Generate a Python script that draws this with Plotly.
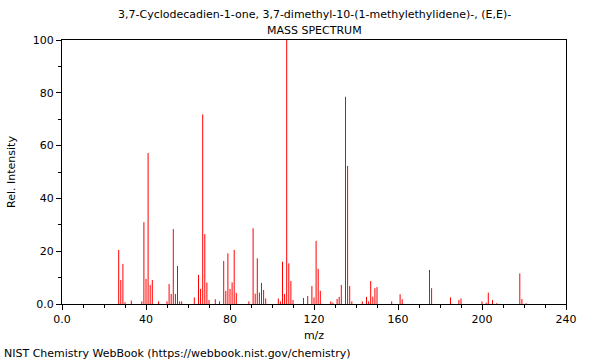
import plotly.graph_objects as go

mz = [27, 28, 29, 30, 33, 38, 39, 40, 41, 42, 43, 46, 50, 51, 52, 53, 54, 55, 56, 57,
      63, 65, 66, 67, 68, 69, 70, 73, 75, 77, 78, 79, 80, 81, 82, 83,
      89, 91, 92, 93, 94, 95, 96, 97,
      103, 104, 105, 106, 107, 108, 109, 110,
      115, 117, 119, 120, 121, 122, 123,
      128, 129, 131, 132, 133, 135, 136, 137, 138,
      143, 145, 146, 147, 148, 149, 150,
      157, 161, 162, 175, 176,
      185, 189, 190, 200, 202, 203, 205, 207,
      218, 219, 221]
intensity = [20.5, 9.1, 15.2, 0.7, 1.3, 1.0, 31.0, 9.5, 57.2, 7.2, 9.1, 1.0, 1.0, 7.6, 3.8, 28.4, 3.8, 14.4, 1.0, 1.0,
             2.5, 11.0, 5.7, 71.8, 26.5, 8.1, 1.5, 1.8, 1.0, 16.3, 5.0, 19.2, 5.7, 8.2, 20.5, 4.2,
             1.0, 28.7, 3.9, 17.3, 4.3, 8.0, 5.3, 2.1,
             2.1, 1.0, 16.0, 3.8, 100.0, 15.4, 8.7, 1.5,
             2.3, 3.0, 6.8, 2.5, 23.9, 13.3, 5.0,
             1.0, 0.5, 1.9, 2.7, 7.2, 78.5, 52.3, 6.8, 1.0,
             1.0, 2.7, 1.0, 8.7, 2.8, 6.0, 6.4,
             1.0, 3.7, 1.8, 12.9, 6.0,
             2.5, 1.5, 2.1, 1.0, 0.5, 4.3, 1.5, 0.3,
             11.6, 1.9, 0.3]

x_tickvals = [0, 40, 80, 120, 160, 200, 240]
x_ticktext = ["0.0", "40", "80", "120", "160", "200", "240"]
y_tickvals = [0, 20, 40, 60, 80, 100]
y_ticktext = ["0.0", "20", "40", "60", "80", "100"]

title_line1 = "3,7-Cyclodecadien-1-one, 3,7-dimethyl-10-(1-methylethylidene)-, (E,E)-"
title_line2 = "MASS SPECTRUM"
footer = "NIST Chemistry WebBook (https://webbook.nist.gov/chemistry)"

font = "DejaVu Sans"

# stick spectrum: one vertical segment per peak, built from the data arrays
seg_x, seg_y = [], []
for m, v in zip(mz, intensity):
    seg_x += [m, m, None]
    seg_y += [0, v, None]

fig = go.Figure()
fig.add_trace(go.Scatter(x=seg_x, y=seg_y, mode="lines",
                         line=dict(color="#ff0000", width=1), hoverinfo="skip"))

fig.update_layout(
    width=600, height=360,
    margin=dict(l=62, r=34, t=40, b=56, autoexpand=False),
    paper_bgcolor="white", plot_bgcolor="white",
    showlegend=False,
    font=dict(family=font, size=11, color="black"),
)
fig.update_xaxes(
    range=[0, 240], tickvals=x_tickvals, ticktext=x_ticktext,
    ticks="outside", ticklen=5, tickcolor="black", tickwidth=1,
    minor=dict(dtick=10, tick0=0, ticks="outside", ticklen=3, tickcolor="black", showgrid=False),
    showline=True, linecolor="black", linewidth=1, mirror=True,
    showgrid=False, zeroline=False,
    title=dict(text="m/z", font=dict(size=11), standoff=6),
    tickfont=dict(size=11),
)
fig.update_yaxes(
    range=[0, 100], tickvals=y_tickvals, ticktext=y_ticktext,
    ticks="outside", ticklen=5, tickcolor="black", tickwidth=1,
    minor=dict(dtick=10, tick0=0, ticks="outside", ticklen=3, tickcolor="black", showgrid=False),
    showline=True, linecolor="black", linewidth=1, mirror=True,
    showgrid=False, zeroline=False,
    title=dict(text="Rel. Intensity", font=dict(size=11), standoff=14),
    tickfont=dict(size=11),
)
fig.add_annotation(text=title_line1, xref="paper", yref="paper", x=0.5, y=1,
                   yshift=26, showarrow=False, font=dict(size=11), xanchor="center", yanchor="middle")
fig.add_annotation(text=title_line2, xref="paper", yref="paper", x=0.5, y=1,
                   yshift=10, showarrow=False, font=dict(size=11), xanchor="center", yanchor="middle")
fig.add_annotation(text=footer, xref="paper", yref="paper", x=0, y=0,
                   xshift=-60, yshift=-49, showarrow=False, font=dict(size=11),
                   xanchor="left", yanchor="middle")

fig.write_html("out.html", config={"displayModeBar": False},
               post_script="document.body.style.margin='0';document.body.style.overflow='hidden';")
